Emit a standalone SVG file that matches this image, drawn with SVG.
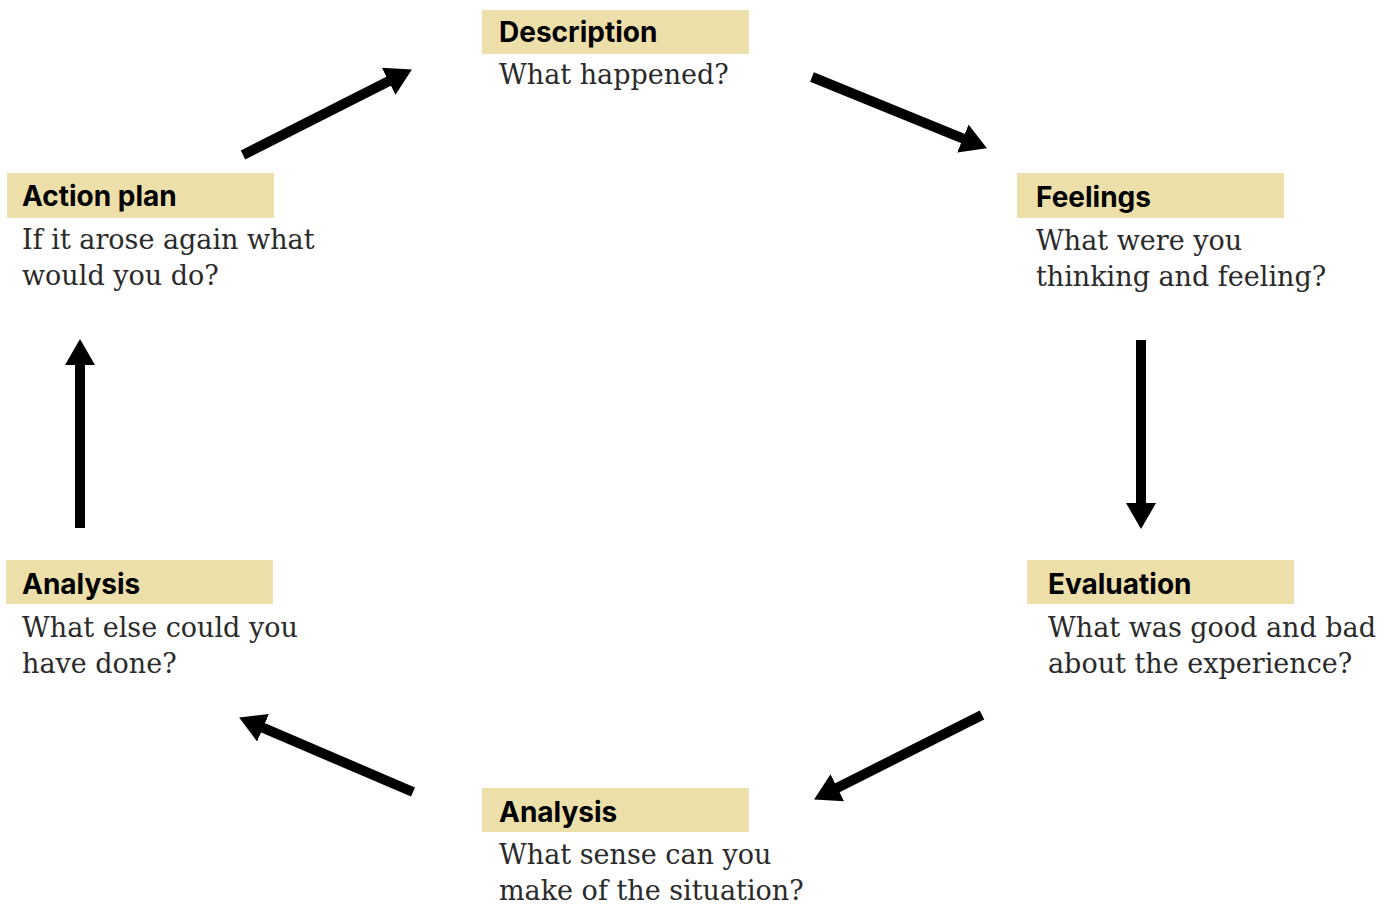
<svg xmlns="http://www.w3.org/2000/svg" width="1396" height="906" viewBox="0 0 1396 906">
<style>
.box{fill:#ECDFAA}
.title{font-family:Inter,Roboto,"Liberation Sans",sans-serif;font-weight:bold;font-size:28px;fill:#000}
.body{font-family:"DejaVu Serif","Liberation Serif",serif;font-size:27px;fill:#2a2a2a}
.arrow{stroke:#000;stroke-width:10;fill:none;marker-end:url(#head)}
</style>
<defs>
<marker id="head" markerUnits="userSpaceOnUse" markerWidth="26" markerHeight="30" viewBox="0 0 26 30" refX="1" refY="15" orient="auto">
<path d="M0,0 L26,15 L0,30 z" fill="#000"/>
</marker>
</defs>
<rect width="1396" height="906" fill="#fff"/>
<g id="description">
<rect class="box" x="482" y="10" width="267" height="44"/>
<text class="title" x="499" y="42">Description</text>
<text class="body" x="499" y="84">What happened?</text>
</g>
<g id="feelings">
<rect class="box" x="1017" y="173" width="267" height="45"/>
<text class="title" x="1036" y="207">Feelings</text>
<text class="body" x="1036" y="250">What were you</text>
<text class="body" x="1036" y="286">thinking and feeling?</text>
</g>
<g id="evaluation">
<rect class="box" x="1027" y="560" width="267" height="44"/>
<text class="title" x="1048" y="594">Evaluation</text>
<text class="body" x="1048" y="637">What was good and bad</text>
<text class="body" x="1048" y="673">about the experience?</text>
</g>
<g id="analysis-bottom">
<rect class="box" x="482" y="788" width="267" height="44"/>
<text class="title" x="499" y="822">Analysis</text>
<text class="body" x="499" y="864">What sense can you</text>
<text class="body" x="499" y="900">make of the situation?</text>
</g>
<g id="analysis-left">
<rect class="box" x="6" y="560" width="267" height="44"/>
<text class="title" x="22" y="594">Analysis</text>
<text class="body" x="22" y="637">What else could you</text>
<text class="body" x="22" y="673">have done?</text>
</g>
<g id="action-plan">
<rect class="box" x="7" y="173" width="267" height="45"/>
<text class="title" x="22" y="206">Action plan</text>
<text class="body" x="22" y="249">If it arose again what</text>
<text class="body" x="22" y="285">would you do?</text>
</g>
<g id="connectors">
<line class="arrow" x1="243" y1="155" x2="389.6" y2="80.8"/>
<line class="arrow" x1="812" y1="77" x2="963.8" y2="138.9"/>
<line class="arrow" x1="1141" y1="340" x2="1141" y2="504"/>
<line class="arrow" x1="982" y1="715" x2="836.4" y2="788.2"/>
<line class="arrow" x1="413" y1="792" x2="262.1" y2="727.4"/>
<line class="arrow" x1="80" y1="528" x2="80" y2="364"/>
</g>
</svg>
